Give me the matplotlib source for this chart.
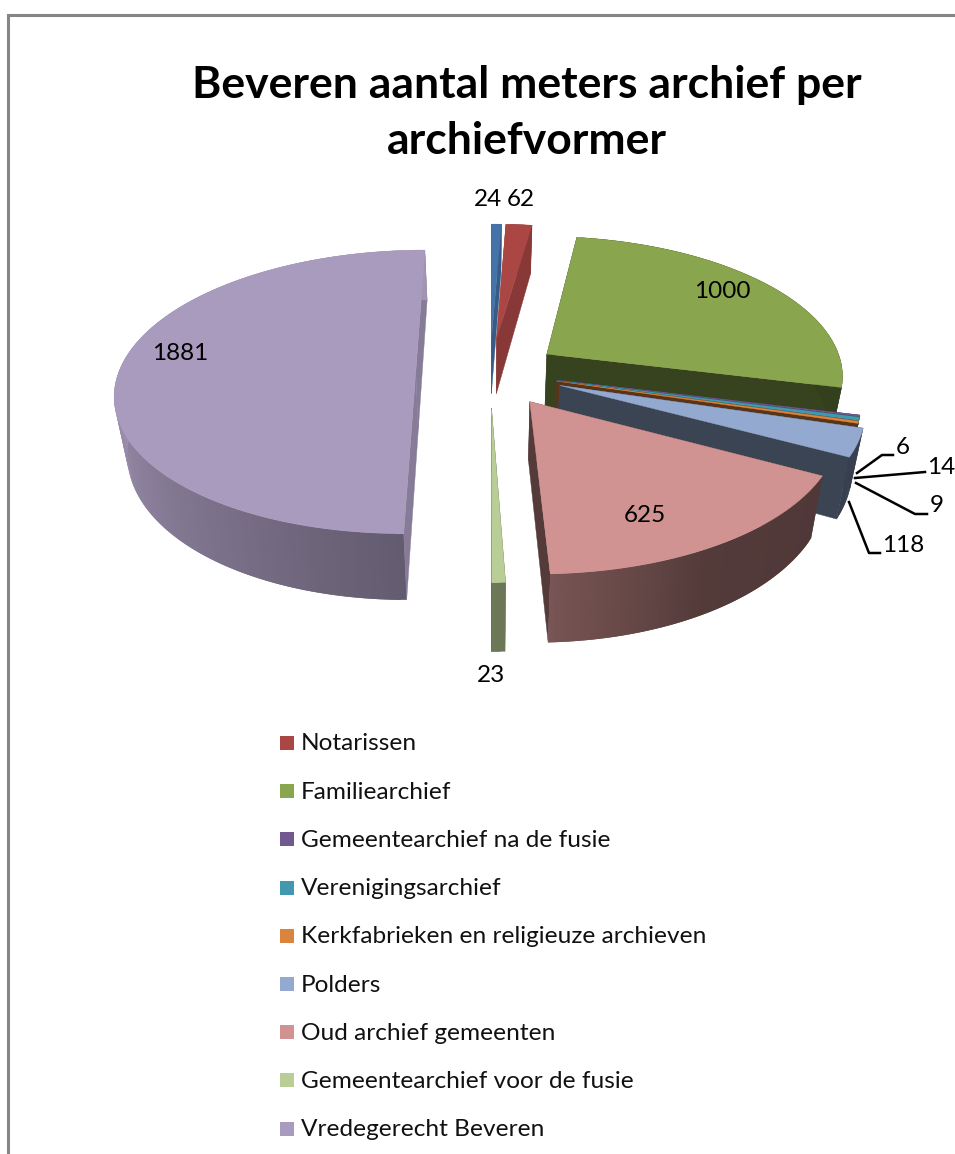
import matplotlib
matplotlib.use('Agg')
import matplotlib.pyplot as plt
from matplotlib.patches import Polygon, Rectangle
import numpy as np

title = "Beveren aantal meters archief per\narchiefvormer"
values = [24, 62, 1000, 6, 14, 9, 118, 625, 23, 1881]
colors = ['#4572A7', '#AA4643', '#89A54E', '#71588F', '#4198AF',
          '#DB843D', '#93A9CF', '#D19392', '#B9CD96', '#A99BBD']
explode = [0.25, 0.25, 0.235, 0.23, 0.23, 0.23, 0.25, 0.245, 0.25, 0.25]

legend_labels = ['Notarissen', 'Familiearchief', 'Gemeentearchief na de fusie',
                 'Verenigingsarchief', 'Kerkfabrieken en religieuze archieven',
                 'Polders', 'Oud archief gemeenten',
                 'Gemeentearchief voor de fusie', 'Vredegerecht Beveren']
legend_colors = colors[1:]

# label text positions (pixels)
label_pos = [(488, 200), (521, 200), (722, 292), (903, 448), (941, 467),
             (937, 506), (903, 545), (645, 516), (491, 676), (180, 353)]
leaders = [[(857, 473), (882, 455), (893, 455)],
           [(855, 478), (925, 472)],
           [(856, 483), (915, 514), (927, 514)],
           [(849, 502), (869, 553), (880, 553)]]

# view of the tilted pie
VX, VY = 490, 372
R, RK = 297, 139
P = 0.14
H = 57
Q = 0.035


def project(x, y, bottom=False):
    w = 1 + P * y
    sx = VX + R * x / w
    sy = VY - RK * y / w
    if bottom:
        sx = VX + (sx - VX) * (1 - Q)
        sy = sy + H / w
    return sx, sy


def shade(col, f):
    return tuple(c * f for c in matplotlib.colors.to_rgb(col))


def draw_slice(ax, t1, t2, col, ex):
    mid = np.radians((t1 + t2) / 2)
    ox, oy = ex * np.sin(mid), ex * np.cos(mid)
    th = np.linspace(t1, t2, max(3, int(t2 - t1) + 2))
    xs = ox + np.sin(np.radians(th))
    ys = oy + np.cos(np.radians(th))
    side = 0.8 if (t2 < 20 or t1 >= 179) else 0.4

    # straight walls from the centre to the rim
    for i in (0, -1):
        quad = [project(ox, oy), project(xs[i], ys[i]),
                project(xs[i], ys[i], True), project(ox, oy, True)]
        ax.add_patch(Polygon(quad, fc=shade(col, side), ec=shade(col, side), lw=0.3))

    # rim, darker towards the front right; quads overlap so no seams show
    for i in range(len(th) - 1):
        f = np.interp(th[i], [118, 150, 178, 270], [0.38, 0.4, 0.58, 0.95])
        if t2 < 20:
            f = side
        j = min(i + 2, len(th) - 1)
        quad = [project(xs[i], ys[i]), project(xs[j], ys[j]),
                project(xs[j], ys[j], True), project(xs[i], ys[i], True)]
        ax.add_patch(Polygon(quad, fc=shade(col, f), ec='none'))

    top = [project(ox, oy)] + [project(a, b) for a, b in zip(xs, ys)]
    ax.add_patch(Polygon(top, fc=col, ec=col, lw=0.3))


plt.rcParams['font.family'] = ['Lato', 'DejaVu Sans']

fig = plt.figure(figsize=(9.55, 11.54), dpi=100)
ax = fig.add_axes([0, 0, 1, 1])
ax.set_xlim(0, 955)
ax.set_ylim(1154, 0)
ax.axis('off')

# chart frame, cut by the screenshot on the right and at the bottom
ax.plot([8, 8, 955], [1154, 15, 15], color='#868686', lw=2.2, solid_joinstyle='miter')

ax.text(527, 113, title, ha='center', va='center', fontsize=32, fontweight='bold',
        linespacing=1.47, color='black')

angles = np.cumsum([0] + values) / sum(values) * 360
for i in range(len(values)):
    draw_slice(ax, angles[i], angles[i + 1], colors[i], explode[i])

for pts in leaders:
    ax.plot([p[0] for p in pts], [p[1] for p in pts], color='black', lw=1.8)

for v, (x, y) in zip(values, label_pos):
    ax.text(x, y, str(v), ha='center', va='center', fontsize=17.5, color='black')

for i, lab in enumerate(legend_labels):
    y = 743 + i * 48.2
    ax.add_patch(Rectangle((280, y - 7), 14, 14, fc=legend_colors[i], ec='none'))
    ax.text(301, y + 1, lab, ha='left', va='center', fontsize=17.6, color='#111111')

fig.savefig('out.png', dpi=100)
